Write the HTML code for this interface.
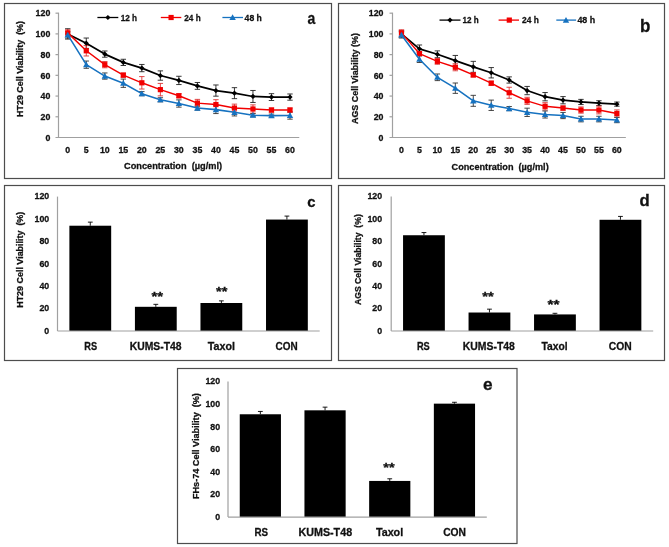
<!DOCTYPE html>
<html><head><meta charset="utf-8"><title>Cell viability figure</title>
<style>
html,body{margin:0;padding:0;background:#fff;}
body{width:669px;height:547px;overflow:hidden;}
svg{display:block;font-family:"Liberation Sans", sans-serif;filter:blur(0.35px);}
text{stroke:#111;stroke-width:0.28px;}
</style></head>
<body>
<svg width="669" height="547" viewBox="0 0 669 547">
<rect width="669" height="547" fill="#fff"/>
<rect x="4.50" y="3.50" width="327.00" height="175.00" fill="none" stroke="#4d4d4d" stroke-width="1.2"/>
<rect x="338.50" y="3.50" width="326.00" height="175.00" fill="none" stroke="#4d4d4d" stroke-width="1.2"/>
<rect x="4.50" y="185.50" width="327.00" height="175.00" fill="none" stroke="#4d4d4d" stroke-width="1.2"/>
<rect x="338.50" y="185.50" width="326.00" height="175.00" fill="none" stroke="#4d4d4d" stroke-width="1.2"/>
<rect x="177.50" y="368.50" width="339.50" height="175.00" fill="none" stroke="#4d4d4d" stroke-width="1.2"/>
<line x1="58.50" y1="12.68" x2="58.50" y2="137.50" stroke="#a0a0a0" stroke-width="1.2"/>
<line x1="55.50" y1="137.50" x2="299.26" y2="137.50" stroke="#a0a0a0" stroke-width="1.2"/>
<line x1="55.50" y1="116.78" x2="58.50" y2="116.78" stroke="#a0a0a0" stroke-width="1.2"/>
<line x1="55.50" y1="96.06" x2="58.50" y2="96.06" stroke="#a0a0a0" stroke-width="1.2"/>
<line x1="55.50" y1="75.34" x2="58.50" y2="75.34" stroke="#a0a0a0" stroke-width="1.2"/>
<line x1="55.50" y1="54.62" x2="58.50" y2="54.62" stroke="#a0a0a0" stroke-width="1.2"/>
<line x1="55.50" y1="33.90" x2="58.50" y2="33.90" stroke="#a0a0a0" stroke-width="1.2"/>
<line x1="55.50" y1="13.18" x2="58.50" y2="13.18" stroke="#a0a0a0" stroke-width="1.2"/>
<text x="50.30" y="140.80" font-size="9" font-weight="bold" fill="#111" text-anchor="end" textLength="4.90" lengthAdjust="spacingAndGlyphs">0</text>
<text x="50.30" y="120.08" font-size="9" font-weight="bold" fill="#111" text-anchor="end" textLength="9.80" lengthAdjust="spacingAndGlyphs">20</text>
<text x="50.30" y="99.36" font-size="9" font-weight="bold" fill="#111" text-anchor="end" textLength="9.80" lengthAdjust="spacingAndGlyphs">40</text>
<text x="50.30" y="78.64" font-size="9" font-weight="bold" fill="#111" text-anchor="end" textLength="9.80" lengthAdjust="spacingAndGlyphs">60</text>
<text x="50.30" y="57.92" font-size="9" font-weight="bold" fill="#111" text-anchor="end" textLength="9.80" lengthAdjust="spacingAndGlyphs">80</text>
<text x="50.30" y="37.20" font-size="9" font-weight="bold" fill="#111" text-anchor="end" textLength="14.70" lengthAdjust="spacingAndGlyphs">100</text>
<text x="50.30" y="16.48" font-size="9" font-weight="bold" fill="#111" text-anchor="end" textLength="14.70" lengthAdjust="spacingAndGlyphs">120</text>
<text x="67.76" y="152.80" font-size="9" font-weight="bold" fill="#111" text-anchor="middle" textLength="4.90" lengthAdjust="spacingAndGlyphs">0</text>
<text x="86.28" y="152.80" font-size="9" font-weight="bold" fill="#111" text-anchor="middle" textLength="4.90" lengthAdjust="spacingAndGlyphs">5</text>
<text x="104.80" y="152.80" font-size="9" font-weight="bold" fill="#111" text-anchor="middle" textLength="9.80" lengthAdjust="spacingAndGlyphs">10</text>
<text x="123.32" y="152.80" font-size="9" font-weight="bold" fill="#111" text-anchor="middle" textLength="9.80" lengthAdjust="spacingAndGlyphs">15</text>
<text x="141.84" y="152.80" font-size="9" font-weight="bold" fill="#111" text-anchor="middle" textLength="9.80" lengthAdjust="spacingAndGlyphs">20</text>
<text x="160.36" y="152.80" font-size="9" font-weight="bold" fill="#111" text-anchor="middle" textLength="9.80" lengthAdjust="spacingAndGlyphs">25</text>
<text x="178.88" y="152.80" font-size="9" font-weight="bold" fill="#111" text-anchor="middle" textLength="9.80" lengthAdjust="spacingAndGlyphs">30</text>
<text x="197.40" y="152.80" font-size="9" font-weight="bold" fill="#111" text-anchor="middle" textLength="9.80" lengthAdjust="spacingAndGlyphs">35</text>
<text x="215.92" y="152.80" font-size="9" font-weight="bold" fill="#111" text-anchor="middle" textLength="9.80" lengthAdjust="spacingAndGlyphs">40</text>
<text x="234.44" y="152.80" font-size="9" font-weight="bold" fill="#111" text-anchor="middle" textLength="9.80" lengthAdjust="spacingAndGlyphs">45</text>
<text x="252.96" y="152.80" font-size="9" font-weight="bold" fill="#111" text-anchor="middle" textLength="9.80" lengthAdjust="spacingAndGlyphs">50</text>
<text x="271.48" y="152.80" font-size="9" font-weight="bold" fill="#111" text-anchor="middle" textLength="9.80" lengthAdjust="spacingAndGlyphs">55</text>
<text x="290.00" y="152.80" font-size="9" font-weight="bold" fill="#111" text-anchor="middle" textLength="9.80" lengthAdjust="spacingAndGlyphs">60</text>
<line x1="67.76" y1="28.72" x2="67.76" y2="39.08" stroke="#222" stroke-width="0.9"/>
<line x1="65.06" y1="28.72" x2="70.46" y2="28.72" stroke="#222" stroke-width="0.9"/>
<line x1="65.06" y1="39.08" x2="70.46" y2="39.08" stroke="#222" stroke-width="0.9"/>
<line x1="86.28" y1="38.04" x2="86.28" y2="48.40" stroke="#222" stroke-width="0.9"/>
<line x1="83.58" y1="38.04" x2="88.98" y2="38.04" stroke="#222" stroke-width="0.9"/>
<line x1="83.58" y1="48.40" x2="88.98" y2="48.40" stroke="#222" stroke-width="0.9"/>
<line x1="104.80" y1="50.99" x2="104.80" y2="57.21" stroke="#222" stroke-width="0.9"/>
<line x1="102.10" y1="50.99" x2="107.50" y2="50.99" stroke="#222" stroke-width="0.9"/>
<line x1="102.10" y1="57.21" x2="107.50" y2="57.21" stroke="#222" stroke-width="0.9"/>
<line x1="123.32" y1="59.28" x2="123.32" y2="65.50" stroke="#222" stroke-width="0.9"/>
<line x1="120.62" y1="59.28" x2="126.02" y2="59.28" stroke="#222" stroke-width="0.9"/>
<line x1="120.62" y1="65.50" x2="126.02" y2="65.50" stroke="#222" stroke-width="0.9"/>
<line x1="141.84" y1="64.46" x2="141.84" y2="71.71" stroke="#222" stroke-width="0.9"/>
<line x1="139.14" y1="64.46" x2="144.54" y2="64.46" stroke="#222" stroke-width="0.9"/>
<line x1="139.14" y1="71.71" x2="144.54" y2="71.71" stroke="#222" stroke-width="0.9"/>
<line x1="160.36" y1="70.89" x2="160.36" y2="80.21" stroke="#222" stroke-width="0.9"/>
<line x1="157.66" y1="70.89" x2="163.06" y2="70.89" stroke="#222" stroke-width="0.9"/>
<line x1="157.66" y1="80.21" x2="163.06" y2="80.21" stroke="#222" stroke-width="0.9"/>
<line x1="178.88" y1="76.27" x2="178.88" y2="84.56" stroke="#222" stroke-width="0.9"/>
<line x1="176.18" y1="76.27" x2="181.58" y2="76.27" stroke="#222" stroke-width="0.9"/>
<line x1="176.18" y1="84.56" x2="181.58" y2="84.56" stroke="#222" stroke-width="0.9"/>
<line x1="197.40" y1="82.49" x2="197.40" y2="89.33" stroke="#222" stroke-width="0.9"/>
<line x1="194.70" y1="82.49" x2="200.10" y2="82.49" stroke="#222" stroke-width="0.9"/>
<line x1="194.70" y1="89.33" x2="200.10" y2="89.33" stroke="#222" stroke-width="0.9"/>
<line x1="215.92" y1="84.97" x2="215.92" y2="96.16" stroke="#222" stroke-width="0.9"/>
<line x1="213.22" y1="84.97" x2="218.62" y2="84.97" stroke="#222" stroke-width="0.9"/>
<line x1="213.22" y1="96.16" x2="218.62" y2="96.16" stroke="#222" stroke-width="0.9"/>
<line x1="234.44" y1="87.67" x2="234.44" y2="98.65" stroke="#222" stroke-width="0.9"/>
<line x1="231.74" y1="87.67" x2="237.14" y2="87.67" stroke="#222" stroke-width="0.9"/>
<line x1="231.74" y1="98.65" x2="237.14" y2="98.65" stroke="#222" stroke-width="0.9"/>
<line x1="252.96" y1="90.47" x2="252.96" y2="102.48" stroke="#222" stroke-width="0.9"/>
<line x1="250.26" y1="90.47" x2="255.66" y2="90.47" stroke="#222" stroke-width="0.9"/>
<line x1="250.26" y1="102.48" x2="255.66" y2="102.48" stroke="#222" stroke-width="0.9"/>
<line x1="271.48" y1="93.68" x2="271.48" y2="100.51" stroke="#222" stroke-width="0.9"/>
<line x1="268.78" y1="93.68" x2="274.18" y2="93.68" stroke="#222" stroke-width="0.9"/>
<line x1="268.78" y1="100.51" x2="274.18" y2="100.51" stroke="#222" stroke-width="0.9"/>
<line x1="290.00" y1="93.99" x2="290.00" y2="100.20" stroke="#222" stroke-width="0.9"/>
<line x1="287.30" y1="93.99" x2="292.70" y2="93.99" stroke="#222" stroke-width="0.9"/>
<line x1="287.30" y1="100.20" x2="292.70" y2="100.20" stroke="#222" stroke-width="0.9"/>
<line x1="67.76" y1="29.76" x2="67.76" y2="35.97" stroke="#d33" stroke-width="0.9"/>
<line x1="65.06" y1="29.76" x2="70.46" y2="29.76" stroke="#d33" stroke-width="0.9"/>
<line x1="65.06" y1="35.97" x2="70.46" y2="35.97" stroke="#d33" stroke-width="0.9"/>
<line x1="86.28" y1="45.61" x2="86.28" y2="55.97" stroke="#d33" stroke-width="0.9"/>
<line x1="83.58" y1="45.61" x2="88.98" y2="45.61" stroke="#d33" stroke-width="0.9"/>
<line x1="83.58" y1="55.97" x2="88.98" y2="55.97" stroke="#d33" stroke-width="0.9"/>
<line x1="104.80" y1="61.56" x2="104.80" y2="67.78" stroke="#d33" stroke-width="0.9"/>
<line x1="102.10" y1="61.56" x2="107.50" y2="61.56" stroke="#d33" stroke-width="0.9"/>
<line x1="102.10" y1="67.78" x2="107.50" y2="67.78" stroke="#d33" stroke-width="0.9"/>
<line x1="123.32" y1="73.06" x2="123.32" y2="77.20" stroke="#d33" stroke-width="0.9"/>
<line x1="120.62" y1="73.06" x2="126.02" y2="73.06" stroke="#d33" stroke-width="0.9"/>
<line x1="120.62" y1="77.20" x2="126.02" y2="77.20" stroke="#d33" stroke-width="0.9"/>
<line x1="141.84" y1="76.58" x2="141.84" y2="89.02" stroke="#d33" stroke-width="0.9"/>
<line x1="139.14" y1="76.58" x2="144.54" y2="76.58" stroke="#d33" stroke-width="0.9"/>
<line x1="139.14" y1="89.02" x2="144.54" y2="89.02" stroke="#d33" stroke-width="0.9"/>
<line x1="160.36" y1="83.42" x2="160.36" y2="95.85" stroke="#d33" stroke-width="0.9"/>
<line x1="157.66" y1="83.42" x2="163.06" y2="83.42" stroke="#d33" stroke-width="0.9"/>
<line x1="157.66" y1="95.85" x2="163.06" y2="95.85" stroke="#d33" stroke-width="0.9"/>
<line x1="178.88" y1="93.68" x2="178.88" y2="97.82" stroke="#d33" stroke-width="0.9"/>
<line x1="176.18" y1="93.68" x2="181.58" y2="93.68" stroke="#d33" stroke-width="0.9"/>
<line x1="176.18" y1="97.82" x2="181.58" y2="97.82" stroke="#d33" stroke-width="0.9"/>
<line x1="197.40" y1="99.38" x2="197.40" y2="106.83" stroke="#d33" stroke-width="0.9"/>
<line x1="194.70" y1="99.38" x2="200.10" y2="99.38" stroke="#d33" stroke-width="0.9"/>
<line x1="194.70" y1="106.83" x2="200.10" y2="106.83" stroke="#d33" stroke-width="0.9"/>
<line x1="215.92" y1="99.69" x2="215.92" y2="109.42" stroke="#d33" stroke-width="0.9"/>
<line x1="213.22" y1="99.69" x2="218.62" y2="99.69" stroke="#d33" stroke-width="0.9"/>
<line x1="213.22" y1="109.42" x2="218.62" y2="109.42" stroke="#d33" stroke-width="0.9"/>
<line x1="234.44" y1="104.14" x2="234.44" y2="112.01" stroke="#d33" stroke-width="0.9"/>
<line x1="231.74" y1="104.14" x2="237.14" y2="104.14" stroke="#d33" stroke-width="0.9"/>
<line x1="231.74" y1="112.01" x2="237.14" y2="112.01" stroke="#d33" stroke-width="0.9"/>
<line x1="252.96" y1="104.87" x2="252.96" y2="113.15" stroke="#d33" stroke-width="0.9"/>
<line x1="250.26" y1="104.87" x2="255.66" y2="104.87" stroke="#d33" stroke-width="0.9"/>
<line x1="250.26" y1="113.15" x2="255.66" y2="113.15" stroke="#d33" stroke-width="0.9"/>
<line x1="271.48" y1="107.97" x2="271.48" y2="112.12" stroke="#d33" stroke-width="0.9"/>
<line x1="268.78" y1="107.97" x2="274.18" y2="107.97" stroke="#d33" stroke-width="0.9"/>
<line x1="268.78" y1="112.12" x2="274.18" y2="112.12" stroke="#d33" stroke-width="0.9"/>
<line x1="290.00" y1="107.97" x2="290.00" y2="112.12" stroke="#d33" stroke-width="0.9"/>
<line x1="287.30" y1="107.97" x2="292.70" y2="107.97" stroke="#d33" stroke-width="0.9"/>
<line x1="287.30" y1="112.12" x2="292.70" y2="112.12" stroke="#d33" stroke-width="0.9"/>
<line x1="67.76" y1="31.83" x2="67.76" y2="38.04" stroke="#333" stroke-width="0.9"/>
<line x1="65.06" y1="31.83" x2="70.46" y2="31.83" stroke="#333" stroke-width="0.9"/>
<line x1="65.06" y1="38.04" x2="70.46" y2="38.04" stroke="#333" stroke-width="0.9"/>
<line x1="86.28" y1="61.04" x2="86.28" y2="68.30" stroke="#333" stroke-width="0.9"/>
<line x1="83.58" y1="61.04" x2="88.98" y2="61.04" stroke="#333" stroke-width="0.9"/>
<line x1="83.58" y1="68.30" x2="88.98" y2="68.30" stroke="#333" stroke-width="0.9"/>
<line x1="104.80" y1="72.96" x2="104.80" y2="79.17" stroke="#333" stroke-width="0.9"/>
<line x1="102.10" y1="72.96" x2="107.50" y2="72.96" stroke="#333" stroke-width="0.9"/>
<line x1="102.10" y1="79.17" x2="107.50" y2="79.17" stroke="#333" stroke-width="0.9"/>
<line x1="123.32" y1="79.07" x2="123.32" y2="87.36" stroke="#333" stroke-width="0.9"/>
<line x1="120.62" y1="79.07" x2="126.02" y2="79.07" stroke="#333" stroke-width="0.9"/>
<line x1="120.62" y1="87.36" x2="126.02" y2="87.36" stroke="#333" stroke-width="0.9"/>
<line x1="141.84" y1="91.61" x2="141.84" y2="95.75" stroke="#333" stroke-width="0.9"/>
<line x1="139.14" y1="91.61" x2="144.54" y2="91.61" stroke="#333" stroke-width="0.9"/>
<line x1="139.14" y1="95.75" x2="144.54" y2="95.75" stroke="#333" stroke-width="0.9"/>
<line x1="160.36" y1="97.72" x2="160.36" y2="101.86" stroke="#333" stroke-width="0.9"/>
<line x1="157.66" y1="97.72" x2="163.06" y2="97.72" stroke="#333" stroke-width="0.9"/>
<line x1="157.66" y1="101.86" x2="163.06" y2="101.86" stroke="#333" stroke-width="0.9"/>
<line x1="178.88" y1="99.89" x2="178.88" y2="107.15" stroke="#333" stroke-width="0.9"/>
<line x1="176.18" y1="99.89" x2="181.58" y2="99.89" stroke="#333" stroke-width="0.9"/>
<line x1="176.18" y1="107.15" x2="181.58" y2="107.15" stroke="#333" stroke-width="0.9"/>
<line x1="197.40" y1="106.01" x2="197.40" y2="110.15" stroke="#333" stroke-width="0.9"/>
<line x1="194.70" y1="106.01" x2="200.10" y2="106.01" stroke="#333" stroke-width="0.9"/>
<line x1="194.70" y1="110.15" x2="200.10" y2="110.15" stroke="#333" stroke-width="0.9"/>
<line x1="215.92" y1="105.69" x2="215.92" y2="113.57" stroke="#333" stroke-width="0.9"/>
<line x1="213.22" y1="105.69" x2="218.62" y2="105.69" stroke="#333" stroke-width="0.9"/>
<line x1="213.22" y1="113.57" x2="218.62" y2="113.57" stroke="#333" stroke-width="0.9"/>
<line x1="234.44" y1="108.70" x2="234.44" y2="115.95" stroke="#333" stroke-width="0.9"/>
<line x1="231.74" y1="108.70" x2="237.14" y2="108.70" stroke="#333" stroke-width="0.9"/>
<line x1="231.74" y1="115.95" x2="237.14" y2="115.95" stroke="#333" stroke-width="0.9"/>
<line x1="252.96" y1="113.67" x2="252.96" y2="116.78" stroke="#333" stroke-width="0.9"/>
<line x1="250.26" y1="113.67" x2="255.66" y2="113.67" stroke="#333" stroke-width="0.9"/>
<line x1="250.26" y1="116.78" x2="255.66" y2="116.78" stroke="#333" stroke-width="0.9"/>
<line x1="271.48" y1="114.09" x2="271.48" y2="117.19" stroke="#333" stroke-width="0.9"/>
<line x1="268.78" y1="114.09" x2="274.18" y2="114.09" stroke="#333" stroke-width="0.9"/>
<line x1="268.78" y1="117.19" x2="274.18" y2="117.19" stroke="#333" stroke-width="0.9"/>
<line x1="290.00" y1="111.91" x2="290.00" y2="119.16" stroke="#333" stroke-width="0.9"/>
<line x1="287.30" y1="111.91" x2="292.70" y2="111.91" stroke="#333" stroke-width="0.9"/>
<line x1="287.30" y1="119.16" x2="292.70" y2="119.16" stroke="#333" stroke-width="0.9"/>
<path d="M67.76 33.90L86.28 43.22L104.80 54.10L123.32 62.39L141.84 68.09L160.36 75.55L178.88 80.42L197.40 85.91L215.92 90.57L234.44 93.16L252.96 96.47L271.48 97.10L290.00 97.10" fill="none" stroke="#000" stroke-width="1.7" stroke-linejoin="round"/>
<path d="M67.76 31.30L70.36 33.90L67.76 36.50L65.16 33.90Z" fill="#000"/>
<path d="M86.28 40.62L88.88 43.22L86.28 45.82L83.68 43.22Z" fill="#000"/>
<path d="M104.80 51.50L107.40 54.10L104.80 56.70L102.20 54.10Z" fill="#000"/>
<path d="M123.32 59.79L125.92 62.39L123.32 64.99L120.72 62.39Z" fill="#000"/>
<path d="M141.84 65.49L144.44 68.09L141.84 70.69L139.24 68.09Z" fill="#000"/>
<path d="M160.36 72.95L162.96 75.55L160.36 78.15L157.76 75.55Z" fill="#000"/>
<path d="M178.88 77.82L181.48 80.42L178.88 83.02L176.28 80.42Z" fill="#000"/>
<path d="M197.40 83.31L200.00 85.91L197.40 88.51L194.80 85.91Z" fill="#000"/>
<path d="M215.92 87.97L218.52 90.57L215.92 93.17L213.32 90.57Z" fill="#000"/>
<path d="M234.44 90.56L237.04 93.16L234.44 95.76L231.84 93.16Z" fill="#000"/>
<path d="M252.96 93.87L255.56 96.47L252.96 99.07L250.36 96.47Z" fill="#000"/>
<path d="M271.48 94.50L274.08 97.10L271.48 99.70L268.88 97.10Z" fill="#000"/>
<path d="M290.00 94.50L292.60 97.10L290.00 99.70L287.40 97.10Z" fill="#000"/>
<path d="M67.76 32.86L86.28 50.79L104.80 64.67L123.32 75.13L141.84 82.80L160.36 89.64L178.88 95.75L197.40 103.10L215.92 104.56L234.44 108.08L252.96 109.01L271.48 110.05L290.00 110.05" fill="none" stroke="#f20000" stroke-width="1.45" stroke-linejoin="round"/>
<rect x="65.16" y="30.26" width="5.20" height="5.20" fill="#f20000"/>
<rect x="83.68" y="48.19" width="5.20" height="5.20" fill="#f20000"/>
<rect x="102.20" y="62.07" width="5.20" height="5.20" fill="#f20000"/>
<rect x="120.72" y="72.53" width="5.20" height="5.20" fill="#f20000"/>
<rect x="139.24" y="80.20" width="5.20" height="5.20" fill="#f20000"/>
<rect x="157.76" y="87.04" width="5.20" height="5.20" fill="#f20000"/>
<rect x="176.28" y="93.15" width="5.20" height="5.20" fill="#f20000"/>
<rect x="194.80" y="100.50" width="5.20" height="5.20" fill="#f20000"/>
<rect x="213.32" y="101.96" width="5.20" height="5.20" fill="#f20000"/>
<rect x="231.84" y="105.48" width="5.20" height="5.20" fill="#f20000"/>
<rect x="250.36" y="106.41" width="5.20" height="5.20" fill="#f20000"/>
<rect x="268.88" y="107.45" width="5.20" height="5.20" fill="#f20000"/>
<rect x="287.40" y="107.45" width="5.20" height="5.20" fill="#f20000"/>
<path d="M67.76 34.94L86.28 64.67L104.80 76.07L123.32 83.21L141.84 93.68L160.36 99.79L178.88 103.52L197.40 108.08L215.92 109.63L234.44 112.33L252.96 115.23L271.48 115.64L290.00 115.54" fill="none" stroke="#1672c0" stroke-width="1.55" stroke-linejoin="round"/>
<path d="M67.76 31.74L70.96 37.50L64.56 37.50Z" fill="#1672c0"/>
<path d="M86.28 61.47L89.48 67.23L83.08 67.23Z" fill="#1672c0"/>
<path d="M104.80 72.87L108.00 78.63L101.60 78.63Z" fill="#1672c0"/>
<path d="M123.32 80.01L126.52 85.77L120.12 85.77Z" fill="#1672c0"/>
<path d="M141.84 90.48L145.04 96.24L138.64 96.24Z" fill="#1672c0"/>
<path d="M160.36 96.59L163.56 102.35L157.16 102.35Z" fill="#1672c0"/>
<path d="M178.88 100.32L182.08 106.08L175.68 106.08Z" fill="#1672c0"/>
<path d="M197.40 104.88L200.60 110.64L194.20 110.64Z" fill="#1672c0"/>
<path d="M215.92 106.43L219.12 112.19L212.72 112.19Z" fill="#1672c0"/>
<path d="M234.44 109.13L237.64 114.89L231.24 114.89Z" fill="#1672c0"/>
<path d="M252.96 112.03L256.16 117.79L249.76 117.79Z" fill="#1672c0"/>
<path d="M271.48 112.44L274.68 118.20L268.28 118.20Z" fill="#1672c0"/>
<path d="M290.00 112.34L293.20 118.10L286.80 118.10Z" fill="#1672c0"/>
<line x1="97.40" y1="17.50" x2="118.30" y2="17.50" stroke="#000" stroke-width="1.3"/>
<path d="M107.90 14.90L110.50 17.50L107.90 20.10L105.30 17.50Z" fill="#000"/>
<text x="120.70" y="20.70" font-size="9" font-weight="bold" fill="#111" textLength="16.40" lengthAdjust="spacingAndGlyphs">12 h</text>
<line x1="160.80" y1="17.50" x2="181.30" y2="17.50" stroke="#f20000" stroke-width="1.3"/>
<rect x="168.50" y="14.90" width="5.20" height="5.20" fill="#f20000"/>
<text x="184.30" y="20.70" font-size="9" font-weight="bold" fill="#111" textLength="16.40" lengthAdjust="spacingAndGlyphs">24 h</text>
<line x1="222.40" y1="17.50" x2="243.00" y2="17.50" stroke="#1672c0" stroke-width="1.3"/>
<path d="M232.60 14.30L235.80 20.06L229.40 20.06Z" fill="#1672c0"/>
<text x="244.60" y="20.70" font-size="9" font-weight="bold" fill="#111" textLength="17.30" lengthAdjust="spacingAndGlyphs">48 h</text>
<text x="124.00" y="169.40" font-size="9.3" font-weight="bold" fill="#111" textLength="98.10" lengthAdjust="spacingAndGlyphs">Concentration&#160; (µg/ml)</text>
<text transform="translate(23.30,116.90) rotate(-90)" x="0" y="0" font-size="9" font-weight="bold" fill="#111" textLength="95.90" lengthAdjust="spacingAndGlyphs">HT29 Cell Viability&#160; (%)</text>
<text x="307.40" y="23.80" font-size="16.5" font-weight="bold" fill="#111" textLength="7.80" lengthAdjust="spacingAndGlyphs">a</text>
<line x1="392.50" y1="12.68" x2="392.50" y2="137.50" stroke="#a0a0a0" stroke-width="1.2"/>
<line x1="389.50" y1="137.50" x2="625.85" y2="137.50" stroke="#a0a0a0" stroke-width="1.2"/>
<line x1="389.50" y1="116.78" x2="392.50" y2="116.78" stroke="#a0a0a0" stroke-width="1.2"/>
<line x1="389.50" y1="96.06" x2="392.50" y2="96.06" stroke="#a0a0a0" stroke-width="1.2"/>
<line x1="389.50" y1="75.34" x2="392.50" y2="75.34" stroke="#a0a0a0" stroke-width="1.2"/>
<line x1="389.50" y1="54.62" x2="392.50" y2="54.62" stroke="#a0a0a0" stroke-width="1.2"/>
<line x1="389.50" y1="33.90" x2="392.50" y2="33.90" stroke="#a0a0a0" stroke-width="1.2"/>
<line x1="389.50" y1="13.18" x2="392.50" y2="13.18" stroke="#a0a0a0" stroke-width="1.2"/>
<text x="383.50" y="140.80" font-size="9" font-weight="bold" fill="#111" text-anchor="end" textLength="4.90" lengthAdjust="spacingAndGlyphs">0</text>
<text x="383.50" y="120.08" font-size="9" font-weight="bold" fill="#111" text-anchor="end" textLength="9.80" lengthAdjust="spacingAndGlyphs">20</text>
<text x="383.50" y="99.36" font-size="9" font-weight="bold" fill="#111" text-anchor="end" textLength="9.80" lengthAdjust="spacingAndGlyphs">40</text>
<text x="383.50" y="78.64" font-size="9" font-weight="bold" fill="#111" text-anchor="end" textLength="9.80" lengthAdjust="spacingAndGlyphs">60</text>
<text x="383.50" y="57.92" font-size="9" font-weight="bold" fill="#111" text-anchor="end" textLength="9.80" lengthAdjust="spacingAndGlyphs">80</text>
<text x="383.50" y="37.20" font-size="9" font-weight="bold" fill="#111" text-anchor="end" textLength="14.70" lengthAdjust="spacingAndGlyphs">100</text>
<text x="383.50" y="16.48" font-size="9" font-weight="bold" fill="#111" text-anchor="end" textLength="14.70" lengthAdjust="spacingAndGlyphs">120</text>
<text x="401.48" y="153.00" font-size="9" font-weight="bold" fill="#111" text-anchor="middle" textLength="4.90" lengthAdjust="spacingAndGlyphs">0</text>
<text x="419.43" y="153.00" font-size="9" font-weight="bold" fill="#111" text-anchor="middle" textLength="4.90" lengthAdjust="spacingAndGlyphs">5</text>
<text x="437.38" y="153.00" font-size="9" font-weight="bold" fill="#111" text-anchor="middle" textLength="9.80" lengthAdjust="spacingAndGlyphs">10</text>
<text x="455.32" y="153.00" font-size="9" font-weight="bold" fill="#111" text-anchor="middle" textLength="9.80" lengthAdjust="spacingAndGlyphs">15</text>
<text x="473.27" y="153.00" font-size="9" font-weight="bold" fill="#111" text-anchor="middle" textLength="9.80" lengthAdjust="spacingAndGlyphs">20</text>
<text x="491.23" y="153.00" font-size="9" font-weight="bold" fill="#111" text-anchor="middle" textLength="9.80" lengthAdjust="spacingAndGlyphs">25</text>
<text x="509.18" y="153.00" font-size="9" font-weight="bold" fill="#111" text-anchor="middle" textLength="9.80" lengthAdjust="spacingAndGlyphs">30</text>
<text x="527.12" y="153.00" font-size="9" font-weight="bold" fill="#111" text-anchor="middle" textLength="9.80" lengthAdjust="spacingAndGlyphs">35</text>
<text x="545.08" y="153.00" font-size="9" font-weight="bold" fill="#111" text-anchor="middle" textLength="9.80" lengthAdjust="spacingAndGlyphs">40</text>
<text x="563.02" y="153.00" font-size="9" font-weight="bold" fill="#111" text-anchor="middle" textLength="9.80" lengthAdjust="spacingAndGlyphs">45</text>
<text x="580.98" y="153.00" font-size="9" font-weight="bold" fill="#111" text-anchor="middle" textLength="9.80" lengthAdjust="spacingAndGlyphs">50</text>
<text x="598.92" y="153.00" font-size="9" font-weight="bold" fill="#111" text-anchor="middle" textLength="9.80" lengthAdjust="spacingAndGlyphs">55</text>
<text x="616.88" y="153.00" font-size="9" font-weight="bold" fill="#111" text-anchor="middle" textLength="9.80" lengthAdjust="spacingAndGlyphs">60</text>
<line x1="401.48" y1="30.79" x2="401.48" y2="37.01" stroke="#222" stroke-width="0.9"/>
<line x1="398.78" y1="30.79" x2="404.18" y2="30.79" stroke="#222" stroke-width="0.9"/>
<line x1="398.78" y1="37.01" x2="404.18" y2="37.01" stroke="#222" stroke-width="0.9"/>
<line x1="419.43" y1="44.99" x2="419.43" y2="52.65" stroke="#222" stroke-width="0.9"/>
<line x1="416.73" y1="44.99" x2="422.12" y2="44.99" stroke="#222" stroke-width="0.9"/>
<line x1="416.73" y1="52.65" x2="422.12" y2="52.65" stroke="#222" stroke-width="0.9"/>
<line x1="437.38" y1="50.89" x2="437.38" y2="57.73" stroke="#222" stroke-width="0.9"/>
<line x1="434.68" y1="50.89" x2="440.07" y2="50.89" stroke="#222" stroke-width="0.9"/>
<line x1="434.68" y1="57.73" x2="440.07" y2="57.73" stroke="#222" stroke-width="0.9"/>
<line x1="455.32" y1="55.45" x2="455.32" y2="65.81" stroke="#222" stroke-width="0.9"/>
<line x1="452.62" y1="55.45" x2="458.02" y2="55.45" stroke="#222" stroke-width="0.9"/>
<line x1="452.62" y1="65.81" x2="458.02" y2="65.81" stroke="#222" stroke-width="0.9"/>
<line x1="473.27" y1="61.35" x2="473.27" y2="72.34" stroke="#222" stroke-width="0.9"/>
<line x1="470.57" y1="61.35" x2="475.97" y2="61.35" stroke="#222" stroke-width="0.9"/>
<line x1="470.57" y1="72.34" x2="475.97" y2="72.34" stroke="#222" stroke-width="0.9"/>
<line x1="491.23" y1="67.57" x2="491.23" y2="77.93" stroke="#222" stroke-width="0.9"/>
<line x1="488.53" y1="67.57" x2="493.93" y2="67.57" stroke="#222" stroke-width="0.9"/>
<line x1="488.53" y1="77.93" x2="493.93" y2="77.93" stroke="#222" stroke-width="0.9"/>
<line x1="509.18" y1="76.89" x2="509.18" y2="83.11" stroke="#222" stroke-width="0.9"/>
<line x1="506.48" y1="76.89" x2="511.88" y2="76.89" stroke="#222" stroke-width="0.9"/>
<line x1="506.48" y1="83.11" x2="511.88" y2="83.11" stroke="#222" stroke-width="0.9"/>
<line x1="527.12" y1="86.43" x2="527.12" y2="94.71" stroke="#222" stroke-width="0.9"/>
<line x1="524.42" y1="86.43" x2="529.83" y2="86.43" stroke="#222" stroke-width="0.9"/>
<line x1="524.42" y1="94.71" x2="529.83" y2="94.71" stroke="#222" stroke-width="0.9"/>
<line x1="545.08" y1="92.54" x2="545.08" y2="100.83" stroke="#222" stroke-width="0.9"/>
<line x1="542.38" y1="92.54" x2="547.78" y2="92.54" stroke="#222" stroke-width="0.9"/>
<line x1="542.38" y1="100.83" x2="547.78" y2="100.83" stroke="#222" stroke-width="0.9"/>
<line x1="563.02" y1="96.58" x2="563.02" y2="103.83" stroke="#222" stroke-width="0.9"/>
<line x1="560.32" y1="96.58" x2="565.73" y2="96.58" stroke="#222" stroke-width="0.9"/>
<line x1="560.32" y1="103.83" x2="565.73" y2="103.83" stroke="#222" stroke-width="0.9"/>
<line x1="580.98" y1="99.38" x2="580.98" y2="104.56" stroke="#222" stroke-width="0.9"/>
<line x1="578.27" y1="99.38" x2="583.68" y2="99.38" stroke="#222" stroke-width="0.9"/>
<line x1="578.27" y1="104.56" x2="583.68" y2="104.56" stroke="#222" stroke-width="0.9"/>
<line x1="598.92" y1="100.72" x2="598.92" y2="105.49" stroke="#222" stroke-width="0.9"/>
<line x1="596.22" y1="100.72" x2="601.62" y2="100.72" stroke="#222" stroke-width="0.9"/>
<line x1="596.22" y1="105.49" x2="601.62" y2="105.49" stroke="#222" stroke-width="0.9"/>
<line x1="616.88" y1="102.07" x2="616.88" y2="106.21" stroke="#222" stroke-width="0.9"/>
<line x1="614.17" y1="102.07" x2="619.58" y2="102.07" stroke="#222" stroke-width="0.9"/>
<line x1="614.17" y1="106.21" x2="619.58" y2="106.21" stroke="#222" stroke-width="0.9"/>
<line x1="401.48" y1="29.76" x2="401.48" y2="35.97" stroke="#d33" stroke-width="0.9"/>
<line x1="398.78" y1="29.76" x2="404.18" y2="29.76" stroke="#d33" stroke-width="0.9"/>
<line x1="398.78" y1="35.97" x2="404.18" y2="35.97" stroke="#d33" stroke-width="0.9"/>
<line x1="419.43" y1="51.51" x2="419.43" y2="55.66" stroke="#d33" stroke-width="0.9"/>
<line x1="416.73" y1="51.51" x2="422.12" y2="51.51" stroke="#d33" stroke-width="0.9"/>
<line x1="416.73" y1="55.66" x2="422.12" y2="55.66" stroke="#d33" stroke-width="0.9"/>
<line x1="437.38" y1="58.45" x2="437.38" y2="64.25" stroke="#d33" stroke-width="0.9"/>
<line x1="434.68" y1="58.45" x2="440.07" y2="58.45" stroke="#d33" stroke-width="0.9"/>
<line x1="434.68" y1="64.25" x2="440.07" y2="64.25" stroke="#d33" stroke-width="0.9"/>
<line x1="455.32" y1="63.74" x2="455.32" y2="70.78" stroke="#d33" stroke-width="0.9"/>
<line x1="452.62" y1="63.74" x2="458.02" y2="63.74" stroke="#d33" stroke-width="0.9"/>
<line x1="452.62" y1="70.78" x2="458.02" y2="70.78" stroke="#d33" stroke-width="0.9"/>
<line x1="473.27" y1="72.85" x2="473.27" y2="77.00" stroke="#d33" stroke-width="0.9"/>
<line x1="470.57" y1="72.85" x2="475.97" y2="72.85" stroke="#d33" stroke-width="0.9"/>
<line x1="470.57" y1="77.00" x2="475.97" y2="77.00" stroke="#d33" stroke-width="0.9"/>
<line x1="491.23" y1="81.14" x2="491.23" y2="85.29" stroke="#d33" stroke-width="0.9"/>
<line x1="488.53" y1="81.14" x2="493.93" y2="81.14" stroke="#d33" stroke-width="0.9"/>
<line x1="488.53" y1="85.29" x2="493.93" y2="85.29" stroke="#d33" stroke-width="0.9"/>
<line x1="509.18" y1="87.25" x2="509.18" y2="98.24" stroke="#d33" stroke-width="0.9"/>
<line x1="506.48" y1="87.25" x2="511.88" y2="87.25" stroke="#d33" stroke-width="0.9"/>
<line x1="506.48" y1="98.24" x2="511.88" y2="98.24" stroke="#d33" stroke-width="0.9"/>
<line x1="527.12" y1="97.30" x2="527.12" y2="104.35" stroke="#d33" stroke-width="0.9"/>
<line x1="524.42" y1="97.30" x2="529.83" y2="97.30" stroke="#d33" stroke-width="0.9"/>
<line x1="524.42" y1="104.35" x2="529.83" y2="104.35" stroke="#d33" stroke-width="0.9"/>
<line x1="545.08" y1="102.69" x2="545.08" y2="109.94" stroke="#d33" stroke-width="0.9"/>
<line x1="542.38" y1="102.69" x2="547.78" y2="102.69" stroke="#d33" stroke-width="0.9"/>
<line x1="542.38" y1="109.94" x2="547.78" y2="109.94" stroke="#d33" stroke-width="0.9"/>
<line x1="563.02" y1="106.01" x2="563.02" y2="110.15" stroke="#d33" stroke-width="0.9"/>
<line x1="560.32" y1="106.01" x2="565.73" y2="106.01" stroke="#d33" stroke-width="0.9"/>
<line x1="560.32" y1="110.15" x2="565.73" y2="110.15" stroke="#d33" stroke-width="0.9"/>
<line x1="580.98" y1="106.94" x2="580.98" y2="113.15" stroke="#d33" stroke-width="0.9"/>
<line x1="578.27" y1="106.94" x2="583.68" y2="106.94" stroke="#d33" stroke-width="0.9"/>
<line x1="578.27" y1="113.15" x2="583.68" y2="113.15" stroke="#d33" stroke-width="0.9"/>
<line x1="598.92" y1="106.21" x2="598.92" y2="113.88" stroke="#d33" stroke-width="0.9"/>
<line x1="596.22" y1="106.21" x2="601.62" y2="106.21" stroke="#d33" stroke-width="0.9"/>
<line x1="596.22" y1="113.88" x2="601.62" y2="113.88" stroke="#d33" stroke-width="0.9"/>
<line x1="616.88" y1="109.94" x2="616.88" y2="117.19" stroke="#d33" stroke-width="0.9"/>
<line x1="614.17" y1="109.94" x2="619.58" y2="109.94" stroke="#d33" stroke-width="0.9"/>
<line x1="614.17" y1="117.19" x2="619.58" y2="117.19" stroke="#d33" stroke-width="0.9"/>
<line x1="401.48" y1="31.83" x2="401.48" y2="38.04" stroke="#333" stroke-width="0.9"/>
<line x1="398.78" y1="31.83" x2="404.18" y2="31.83" stroke="#333" stroke-width="0.9"/>
<line x1="398.78" y1="38.04" x2="404.18" y2="38.04" stroke="#333" stroke-width="0.9"/>
<line x1="419.43" y1="55.86" x2="419.43" y2="62.49" stroke="#333" stroke-width="0.9"/>
<line x1="416.73" y1="55.86" x2="422.12" y2="55.86" stroke="#333" stroke-width="0.9"/>
<line x1="416.73" y1="62.49" x2="422.12" y2="62.49" stroke="#333" stroke-width="0.9"/>
<line x1="437.38" y1="73.99" x2="437.38" y2="80.62" stroke="#333" stroke-width="0.9"/>
<line x1="434.68" y1="73.99" x2="440.07" y2="73.99" stroke="#333" stroke-width="0.9"/>
<line x1="434.68" y1="80.62" x2="440.07" y2="80.62" stroke="#333" stroke-width="0.9"/>
<line x1="455.32" y1="83.01" x2="455.32" y2="93.37" stroke="#333" stroke-width="0.9"/>
<line x1="452.62" y1="83.01" x2="458.02" y2="83.01" stroke="#333" stroke-width="0.9"/>
<line x1="452.62" y1="93.37" x2="458.02" y2="93.37" stroke="#333" stroke-width="0.9"/>
<line x1="473.27" y1="95.33" x2="473.27" y2="106.32" stroke="#333" stroke-width="0.9"/>
<line x1="470.57" y1="95.33" x2="475.97" y2="95.33" stroke="#333" stroke-width="0.9"/>
<line x1="470.57" y1="106.32" x2="475.97" y2="106.32" stroke="#333" stroke-width="0.9"/>
<line x1="491.23" y1="100.10" x2="491.23" y2="110.46" stroke="#333" stroke-width="0.9"/>
<line x1="488.53" y1="100.10" x2="493.93" y2="100.10" stroke="#333" stroke-width="0.9"/>
<line x1="488.53" y1="110.46" x2="493.93" y2="110.46" stroke="#333" stroke-width="0.9"/>
<line x1="509.18" y1="106.52" x2="509.18" y2="110.67" stroke="#333" stroke-width="0.9"/>
<line x1="506.48" y1="106.52" x2="511.88" y2="106.52" stroke="#333" stroke-width="0.9"/>
<line x1="506.48" y1="110.67" x2="511.88" y2="110.67" stroke="#333" stroke-width="0.9"/>
<line x1="527.12" y1="108.18" x2="527.12" y2="116.47" stroke="#333" stroke-width="0.9"/>
<line x1="524.42" y1="108.18" x2="529.83" y2="108.18" stroke="#333" stroke-width="0.9"/>
<line x1="524.42" y1="116.47" x2="529.83" y2="116.47" stroke="#333" stroke-width="0.9"/>
<line x1="545.08" y1="110.98" x2="545.08" y2="118.02" stroke="#333" stroke-width="0.9"/>
<line x1="542.38" y1="110.98" x2="547.78" y2="110.98" stroke="#333" stroke-width="0.9"/>
<line x1="542.38" y1="118.02" x2="547.78" y2="118.02" stroke="#333" stroke-width="0.9"/>
<line x1="563.02" y1="112.43" x2="563.02" y2="118.64" stroke="#333" stroke-width="0.9"/>
<line x1="560.32" y1="112.43" x2="565.73" y2="112.43" stroke="#333" stroke-width="0.9"/>
<line x1="560.32" y1="118.64" x2="565.73" y2="118.64" stroke="#333" stroke-width="0.9"/>
<line x1="580.98" y1="116.26" x2="580.98" y2="121.86" stroke="#333" stroke-width="0.9"/>
<line x1="578.27" y1="116.26" x2="583.68" y2="116.26" stroke="#333" stroke-width="0.9"/>
<line x1="578.27" y1="121.86" x2="583.68" y2="121.86" stroke="#333" stroke-width="0.9"/>
<line x1="598.92" y1="116.26" x2="598.92" y2="121.86" stroke="#333" stroke-width="0.9"/>
<line x1="596.22" y1="116.26" x2="601.62" y2="116.26" stroke="#333" stroke-width="0.9"/>
<line x1="596.22" y1="121.86" x2="601.62" y2="121.86" stroke="#333" stroke-width="0.9"/>
<line x1="616.88" y1="117.30" x2="616.88" y2="122.69" stroke="#333" stroke-width="0.9"/>
<line x1="614.17" y1="117.30" x2="619.58" y2="117.30" stroke="#333" stroke-width="0.9"/>
<line x1="614.17" y1="122.69" x2="619.58" y2="122.69" stroke="#333" stroke-width="0.9"/>
<path d="M401.48 33.90L419.43 48.82L437.38 54.31L455.32 60.63L473.27 66.84L491.23 72.75L509.18 80.00L527.12 90.57L545.08 96.68L563.02 100.20L580.98 101.97L598.92 103.10L616.88 104.14" fill="none" stroke="#000" stroke-width="1.7" stroke-linejoin="round"/>
<path d="M401.48 31.30L404.08 33.90L401.48 36.50L398.88 33.90Z" fill="#000"/>
<path d="M419.43 46.22L422.03 48.82L419.43 51.42L416.82 48.82Z" fill="#000"/>
<path d="M437.38 51.71L439.98 54.31L437.38 56.91L434.77 54.31Z" fill="#000"/>
<path d="M455.32 58.03L457.93 60.63L455.32 63.23L452.72 60.63Z" fill="#000"/>
<path d="M473.27 64.24L475.88 66.84L473.27 69.44L470.67 66.84Z" fill="#000"/>
<path d="M491.23 70.15L493.83 72.75L491.23 75.35L488.62 72.75Z" fill="#000"/>
<path d="M509.18 77.40L511.78 80.00L509.18 82.60L506.57 80.00Z" fill="#000"/>
<path d="M527.12 87.97L529.73 90.57L527.12 93.17L524.52 90.57Z" fill="#000"/>
<path d="M545.08 94.08L547.68 96.68L545.08 99.28L542.48 96.68Z" fill="#000"/>
<path d="M563.02 97.60L565.62 100.20L563.02 102.80L560.42 100.20Z" fill="#000"/>
<path d="M580.98 99.37L583.58 101.97L580.98 104.57L578.38 101.97Z" fill="#000"/>
<path d="M598.92 100.50L601.52 103.10L598.92 105.70L596.32 103.10Z" fill="#000"/>
<path d="M616.88 101.54L619.48 104.14L616.88 106.74L614.27 104.14Z" fill="#000"/>
<path d="M401.48 32.86L419.43 53.58L437.38 61.35L455.32 67.26L473.27 74.93L491.23 83.21L509.18 92.74L527.12 100.83L545.08 106.32L563.02 108.08L580.98 110.05L598.92 110.05L616.88 113.57" fill="none" stroke="#f20000" stroke-width="1.45" stroke-linejoin="round"/>
<rect x="398.88" y="30.26" width="5.20" height="5.20" fill="#f20000"/>
<rect x="416.82" y="50.98" width="5.20" height="5.20" fill="#f20000"/>
<rect x="434.77" y="58.75" width="5.20" height="5.20" fill="#f20000"/>
<rect x="452.72" y="64.66" width="5.20" height="5.20" fill="#f20000"/>
<rect x="470.67" y="72.33" width="5.20" height="5.20" fill="#f20000"/>
<rect x="488.62" y="80.61" width="5.20" height="5.20" fill="#f20000"/>
<rect x="506.57" y="90.14" width="5.20" height="5.20" fill="#f20000"/>
<rect x="524.52" y="98.23" width="5.20" height="5.20" fill="#f20000"/>
<rect x="542.48" y="103.72" width="5.20" height="5.20" fill="#f20000"/>
<rect x="560.42" y="105.48" width="5.20" height="5.20" fill="#f20000"/>
<rect x="578.38" y="107.45" width="5.20" height="5.20" fill="#f20000"/>
<rect x="596.32" y="107.45" width="5.20" height="5.20" fill="#f20000"/>
<rect x="614.27" y="110.97" width="5.20" height="5.20" fill="#f20000"/>
<path d="M401.48 34.94L419.43 59.18L437.38 77.31L455.32 88.19L473.27 100.83L491.23 105.28L509.18 108.60L527.12 112.33L545.08 114.50L563.02 115.54L580.98 119.06L598.92 119.06L616.88 119.99" fill="none" stroke="#1672c0" stroke-width="1.55" stroke-linejoin="round"/>
<path d="M401.48 31.74L404.68 37.50L398.28 37.50Z" fill="#1672c0"/>
<path d="M419.43 55.98L422.62 61.74L416.23 61.74Z" fill="#1672c0"/>
<path d="M437.38 74.11L440.57 79.87L434.18 79.87Z" fill="#1672c0"/>
<path d="M455.32 84.99L458.52 90.75L452.12 90.75Z" fill="#1672c0"/>
<path d="M473.27 97.63L476.47 103.39L470.07 103.39Z" fill="#1672c0"/>
<path d="M491.23 102.08L494.43 107.84L488.03 107.84Z" fill="#1672c0"/>
<path d="M509.18 105.40L512.38 111.16L505.98 111.16Z" fill="#1672c0"/>
<path d="M527.12 109.13L530.33 114.89L523.92 114.89Z" fill="#1672c0"/>
<path d="M545.08 111.30L548.28 117.06L541.88 117.06Z" fill="#1672c0"/>
<path d="M563.02 112.34L566.23 118.10L559.82 118.10Z" fill="#1672c0"/>
<path d="M580.98 115.86L584.18 121.62L577.77 121.62Z" fill="#1672c0"/>
<path d="M598.92 115.86L602.12 121.62L595.72 121.62Z" fill="#1672c0"/>
<path d="M616.88 116.79L620.08 122.55L613.67 122.55Z" fill="#1672c0"/>
<line x1="439.50" y1="20.10" x2="460.50" y2="20.10" stroke="#000" stroke-width="1.3"/>
<path d="M450.00 17.50L452.60 20.10L450.00 22.70L447.40 20.10Z" fill="#000"/>
<text x="462.50" y="23.30" font-size="9" font-weight="bold" fill="#111" textLength="16.20" lengthAdjust="spacingAndGlyphs">12 h</text>
<line x1="498.60" y1="20.10" x2="519.00" y2="20.10" stroke="#f20000" stroke-width="1.3"/>
<rect x="506.70" y="17.50" width="5.20" height="5.20" fill="#f20000"/>
<text x="522.00" y="23.30" font-size="9" font-weight="bold" fill="#111" textLength="16.80" lengthAdjust="spacingAndGlyphs">24 h</text>
<line x1="556.30" y1="20.10" x2="576.10" y2="20.10" stroke="#1672c0" stroke-width="1.3"/>
<path d="M566.00 16.90L569.20 22.66L562.80 22.66Z" fill="#1672c0"/>
<text x="577.40" y="23.30" font-size="9" font-weight="bold" fill="#111" textLength="17.80" lengthAdjust="spacingAndGlyphs">48 h</text>
<text x="451.60" y="169.60" font-size="9.3" font-weight="bold" fill="#111" textLength="97.10" lengthAdjust="spacingAndGlyphs">Concentration&#160; (µg/ml)</text>
<text transform="translate(357.50,124.00) rotate(-90)" x="0" y="0" font-size="9" font-weight="bold" fill="#111" textLength="90.90" lengthAdjust="spacingAndGlyphs">AGS Cell Viability (%)</text>
<text x="640.00" y="32.00" font-size="18" font-weight="bold" fill="#111" textLength="10.40" lengthAdjust="spacingAndGlyphs">b</text>
<rect x="69.38" y="225.72" width="41.80" height="105.28" fill="#000"/>
<line x1="90.28" y1="222.14" x2="90.28" y2="225.72" stroke="#000" stroke-width="0.9"/>
<line x1="87.88" y1="222.14" x2="92.68" y2="222.14" stroke="#000" stroke-width="0.9"/>
<rect x="134.92" y="306.81" width="41.80" height="24.19" fill="#000"/>
<line x1="155.82" y1="304.34" x2="155.82" y2="306.81" stroke="#000" stroke-width="0.9"/>
<line x1="153.42" y1="304.34" x2="158.22" y2="304.34" stroke="#000" stroke-width="0.9"/>
<rect x="200.47" y="303.00" width="41.80" height="28.00" fill="#000"/>
<line x1="221.38" y1="300.87" x2="221.38" y2="303.00" stroke="#000" stroke-width="0.9"/>
<line x1="218.97" y1="300.87" x2="223.78" y2="300.87" stroke="#000" stroke-width="0.9"/>
<rect x="266.02" y="219.56" width="41.80" height="111.44" fill="#000"/>
<line x1="286.92" y1="216.09" x2="286.92" y2="219.56" stroke="#000" stroke-width="0.9"/>
<line x1="284.52" y1="216.09" x2="289.32" y2="216.09" stroke="#000" stroke-width="0.9"/>
<line x1="57.50" y1="196.60" x2="57.50" y2="331.00" stroke="#a0a0a0" stroke-width="1.2"/>
<line x1="57.50" y1="331.00" x2="319.70" y2="331.00" stroke="#a0a0a0" stroke-width="1.2"/>
<text x="49.20" y="333.80" font-size="9" font-weight="bold" fill="#111" text-anchor="end" textLength="4.90" lengthAdjust="spacingAndGlyphs">0</text>
<text x="49.20" y="311.40" font-size="9" font-weight="bold" fill="#111" text-anchor="end" textLength="9.80" lengthAdjust="spacingAndGlyphs">20</text>
<text x="49.20" y="289.00" font-size="9" font-weight="bold" fill="#111" text-anchor="end" textLength="9.80" lengthAdjust="spacingAndGlyphs">40</text>
<text x="49.20" y="266.60" font-size="9" font-weight="bold" fill="#111" text-anchor="end" textLength="9.80" lengthAdjust="spacingAndGlyphs">60</text>
<text x="49.20" y="244.20" font-size="9" font-weight="bold" fill="#111" text-anchor="end" textLength="9.80" lengthAdjust="spacingAndGlyphs">80</text>
<text x="49.20" y="221.80" font-size="9" font-weight="bold" fill="#111" text-anchor="end" textLength="14.70" lengthAdjust="spacingAndGlyphs">100</text>
<text x="49.20" y="199.40" font-size="9" font-weight="bold" fill="#111" text-anchor="end" textLength="14.70" lengthAdjust="spacingAndGlyphs">120</text>
<text x="84.30" y="349.70" font-size="10.6" font-weight="bold" fill="#111" textLength="12.80" lengthAdjust="spacingAndGlyphs">RS</text>
<text x="129.70" y="349.70" font-size="10.6" font-weight="bold" fill="#111" textLength="51.80" lengthAdjust="spacingAndGlyphs">KUMS-T48</text>
<text x="207.80" y="349.70" font-size="10.6" font-weight="bold" fill="#111" textLength="27.20" lengthAdjust="spacingAndGlyphs">Taxol</text>
<text x="275.60" y="349.70" font-size="10.6" font-weight="bold" fill="#111" textLength="22.10" lengthAdjust="spacingAndGlyphs">CON</text>
<text x="151.50" y="300.60" font-size="13.5" font-weight="bold" fill="#111" textLength="11.70" lengthAdjust="spacingAndGlyphs">**</text>
<text x="216.00" y="296.00" font-size="13.5" font-weight="bold" fill="#111" textLength="11.40" lengthAdjust="spacingAndGlyphs">**</text>
<text transform="translate(23.30,307.80) rotate(-90)" x="0" y="0" font-size="9" font-weight="bold" fill="#111" textLength="96.10" lengthAdjust="spacingAndGlyphs">HT29 Cell Viability&#160; (%)</text>
<text x="307.20" y="206.80" font-size="15.5" font-weight="bold" fill="#111" textLength="8.20" lengthAdjust="spacingAndGlyphs">c</text>
<rect x="403.05" y="235.24" width="41.80" height="95.76" fill="#000"/>
<line x1="423.95" y1="232.55" x2="423.95" y2="235.24" stroke="#000" stroke-width="0.9"/>
<line x1="421.55" y1="232.55" x2="426.35" y2="232.55" stroke="#000" stroke-width="0.9"/>
<rect x="468.55" y="312.52" width="41.80" height="18.48" fill="#000"/>
<line x1="489.45" y1="309.16" x2="489.45" y2="312.52" stroke="#000" stroke-width="0.9"/>
<line x1="487.05" y1="309.16" x2="491.85" y2="309.16" stroke="#000" stroke-width="0.9"/>
<rect x="534.05" y="314.42" width="41.80" height="16.58" fill="#000"/>
<line x1="554.95" y1="313.30" x2="554.95" y2="314.42" stroke="#000" stroke-width="0.9"/>
<line x1="552.55" y1="313.30" x2="557.35" y2="313.30" stroke="#000" stroke-width="0.9"/>
<rect x="599.55" y="219.78" width="41.80" height="111.22" fill="#000"/>
<line x1="620.45" y1="216.42" x2="620.45" y2="219.78" stroke="#000" stroke-width="0.9"/>
<line x1="618.05" y1="216.42" x2="622.85" y2="216.42" stroke="#000" stroke-width="0.9"/>
<line x1="391.20" y1="196.60" x2="391.20" y2="331.00" stroke="#a0a0a0" stroke-width="1.2"/>
<line x1="391.20" y1="331.00" x2="653.20" y2="331.00" stroke="#a0a0a0" stroke-width="1.2"/>
<text x="382.10" y="333.80" font-size="9" font-weight="bold" fill="#111" text-anchor="end" textLength="4.90" lengthAdjust="spacingAndGlyphs">0</text>
<text x="382.10" y="311.40" font-size="9" font-weight="bold" fill="#111" text-anchor="end" textLength="9.80" lengthAdjust="spacingAndGlyphs">20</text>
<text x="382.10" y="289.00" font-size="9" font-weight="bold" fill="#111" text-anchor="end" textLength="9.80" lengthAdjust="spacingAndGlyphs">40</text>
<text x="382.10" y="266.60" font-size="9" font-weight="bold" fill="#111" text-anchor="end" textLength="9.80" lengthAdjust="spacingAndGlyphs">60</text>
<text x="382.10" y="244.20" font-size="9" font-weight="bold" fill="#111" text-anchor="end" textLength="9.80" lengthAdjust="spacingAndGlyphs">80</text>
<text x="382.10" y="221.80" font-size="9" font-weight="bold" fill="#111" text-anchor="end" textLength="14.70" lengthAdjust="spacingAndGlyphs">100</text>
<text x="382.10" y="199.40" font-size="9" font-weight="bold" fill="#111" text-anchor="end" textLength="14.70" lengthAdjust="spacingAndGlyphs">120</text>
<text x="416.90" y="349.80" font-size="10.6" font-weight="bold" fill="#111" textLength="12.80" lengthAdjust="spacingAndGlyphs">RS</text>
<text x="462.80" y="349.80" font-size="10.6" font-weight="bold" fill="#111" textLength="52.10" lengthAdjust="spacingAndGlyphs">KUMS-T48</text>
<text x="541.50" y="349.80" font-size="10.6" font-weight="bold" fill="#111" textLength="26.10" lengthAdjust="spacingAndGlyphs">Taxol</text>
<text x="608.70" y="349.80" font-size="10.6" font-weight="bold" fill="#111" textLength="22.90" lengthAdjust="spacingAndGlyphs">CON</text>
<text x="482.20" y="300.60" font-size="13.5" font-weight="bold" fill="#111" textLength="11.50" lengthAdjust="spacingAndGlyphs">**</text>
<text x="547.50" y="308.60" font-size="13.5" font-weight="bold" fill="#111" textLength="12.10" lengthAdjust="spacingAndGlyphs">**</text>
<text transform="translate(361.00,305.10) rotate(-90)" x="0" y="0" font-size="9" font-weight="bold" fill="#111" textLength="90.90" lengthAdjust="spacingAndGlyphs">AGS Cell Viability&#160; (%)</text>
<text x="639.60" y="206.40" font-size="16.5" font-weight="bold" fill="#111" textLength="10.20" lengthAdjust="spacingAndGlyphs">d</text>
<rect x="239.75" y="414.27" width="41.20" height="102.83" fill="#000"/>
<line x1="260.35" y1="411.45" x2="260.35" y2="414.27" stroke="#000" stroke-width="0.9"/>
<line x1="257.95" y1="411.45" x2="262.75" y2="411.45" stroke="#000" stroke-width="0.9"/>
<rect x="304.45" y="410.32" width="41.20" height="106.78" fill="#000"/>
<line x1="325.05" y1="407.15" x2="325.05" y2="410.32" stroke="#000" stroke-width="0.9"/>
<line x1="322.65" y1="407.15" x2="327.45" y2="407.15" stroke="#000" stroke-width="0.9"/>
<rect x="369.15" y="480.94" width="41.20" height="36.16" fill="#000"/>
<line x1="389.75" y1="478.79" x2="389.75" y2="480.94" stroke="#000" stroke-width="0.9"/>
<line x1="387.35" y1="478.79" x2="392.15" y2="478.79" stroke="#000" stroke-width="0.9"/>
<rect x="433.85" y="403.65" width="41.20" height="113.45" fill="#000"/>
<line x1="454.45" y1="402.29" x2="454.45" y2="403.65" stroke="#000" stroke-width="0.9"/>
<line x1="452.05" y1="402.29" x2="456.85" y2="402.29" stroke="#000" stroke-width="0.9"/>
<line x1="228.00" y1="381.50" x2="228.00" y2="517.10" stroke="#a0a0a0" stroke-width="1.2"/>
<line x1="228.00" y1="517.10" x2="486.80" y2="517.10" stroke="#a0a0a0" stroke-width="1.2"/>
<text x="220.10" y="519.90" font-size="9" font-weight="bold" fill="#111" text-anchor="end" textLength="4.90" lengthAdjust="spacingAndGlyphs">0</text>
<text x="220.10" y="497.30" font-size="9" font-weight="bold" fill="#111" text-anchor="end" textLength="9.80" lengthAdjust="spacingAndGlyphs">20</text>
<text x="220.10" y="474.70" font-size="9" font-weight="bold" fill="#111" text-anchor="end" textLength="9.80" lengthAdjust="spacingAndGlyphs">40</text>
<text x="220.10" y="452.10" font-size="9" font-weight="bold" fill="#111" text-anchor="end" textLength="9.80" lengthAdjust="spacingAndGlyphs">60</text>
<text x="220.10" y="429.50" font-size="9" font-weight="bold" fill="#111" text-anchor="end" textLength="9.80" lengthAdjust="spacingAndGlyphs">80</text>
<text x="220.10" y="406.90" font-size="9" font-weight="bold" fill="#111" text-anchor="end" textLength="14.70" lengthAdjust="spacingAndGlyphs">100</text>
<text x="220.10" y="384.30" font-size="9" font-weight="bold" fill="#111" text-anchor="end" textLength="14.70" lengthAdjust="spacingAndGlyphs">120</text>
<text x="254.40" y="535.90" font-size="10.6" font-weight="bold" fill="#111" textLength="13.60" lengthAdjust="spacingAndGlyphs">RS</text>
<text x="298.50" y="535.90" font-size="10.6" font-weight="bold" fill="#111" textLength="53.60" lengthAdjust="spacingAndGlyphs">KUMS-T48</text>
<text x="375.90" y="535.90" font-size="10.6" font-weight="bold" fill="#111" textLength="27.30" lengthAdjust="spacingAndGlyphs">Taxol</text>
<text x="443.20" y="535.90" font-size="10.6" font-weight="bold" fill="#111" textLength="22.80" lengthAdjust="spacingAndGlyphs">CON</text>
<text x="383.30" y="471.90" font-size="13.5" font-weight="bold" fill="#111" textLength="11.40" lengthAdjust="spacingAndGlyphs">**</text>
<text transform="translate(198.60,499.00) rotate(-90)" x="0" y="0" font-size="9" font-weight="bold" fill="#111" textLength="105.90" lengthAdjust="spacingAndGlyphs">FHs-74 Cell Viability&#160; (%)</text>
<text x="483.00" y="390.20" font-size="17" font-weight="bold" fill="#111" textLength="9.60" lengthAdjust="spacingAndGlyphs">e</text>
</svg>
</body></html>
